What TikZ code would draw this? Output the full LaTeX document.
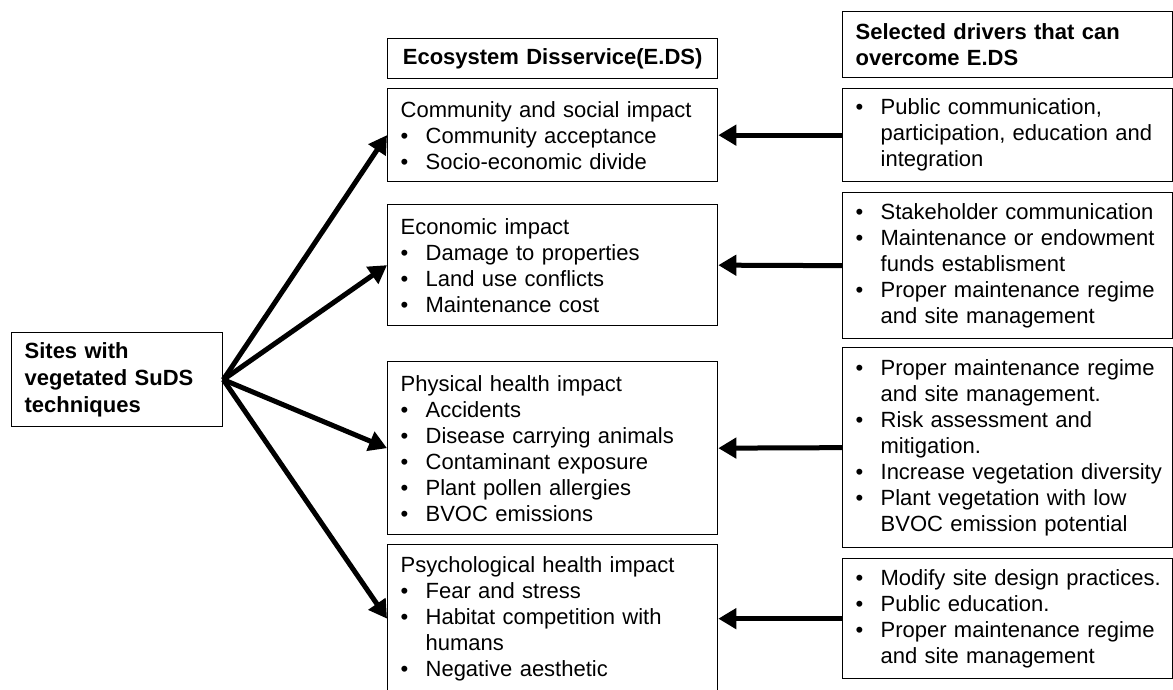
\documentclass[tikz,border=0pt]{standalone}
\usepackage{fontspec}
\setmainfont{Liberation Sans}
\usetikzlibrary{arrows.meta}
% bulleted line with hanging indent, and an indented continuation line;
% each line is kept in one piece
\newcommand{\bl}[1]{\makebox[25pt][l]{•}\mbox{#1}}
\newcommand{\ind}[1]{\hspace*{25pt}\mbox{#1}}
\begin{document}
\begin{tikzpicture}[x=1pt,y=-1pt,
  box/.style={draw, line width=1.3pt, anchor=north west, inner xsep=13pt,
    inner ysep=0pt, align=left, text width=304pt, minimum height=#1,
    font=\fontsize{22}{26}\selectfont},
  conn/.style={line width=5pt, -{Triangle[length=18pt,width=20pt]}}]
\useasboundingbox (0,0) rectangle (1173,689);
\clip (0,0) rectangle (1173,689);

% source
\node[box=94pt, text width=185pt, font=\fontsize{22}{27}\selectfont\bfseries]
  (src) at (11,332) {Sites with\\vegetated SuDS\\techniques};

% disservice column
\node[box=40pt, align=center, font=\fontsize{22}{26}\selectfont\bfseries]
  (hL) at (387,38) {Ecosystem Disservice(E.DS)};
\node[box=93pt] (L1) at (387,88)
  {Community and social impact\\\bl{Community acceptance}\\\bl{Socio-economic divide}};
\node[box=121pt] (L2) at (387,204)
  {Economic impact\\\bl{Damage to properties}\\\bl{Land use conflicts}\\\bl{Maintenance cost}};
\node[box=173pt] (L3) at (387,361)
  {Physical health impact\\\bl{Accidents}\\\bl{Disease carrying animals}\\\bl{Contaminant exposure}\\\bl{Plant pollen allergies}\\\bl{BVOC emissions}};
\node[box=148pt] (L4) at (387,544)
  {Psychological health impact\\\bl{Fear and stress}\\\bl{Habitat competition with}\\\ind{humans}\\\bl{Negative aesthetic}};

% drivers column
\node[box=66pt, font=\fontsize{22}{26}\selectfont\bfseries]
  (hR) at (842,11) {Selected drivers that can\\overcome E.DS};
\node[box=93pt] (R1) at (842,88)
  {\bl{Public communication,}\\\ind{participation, education and}\\\ind{integration}};
\node[box=146pt] (R2) at (842,192)
  {\bl{Stakeholder communication}\\\bl{Maintenance or endowment}\\\ind{funds establisment}\\\bl{Proper maintenance regime}\\\ind{and site management}};
\node[box=200pt] (R3) at (842,347)
  {\bl{Proper maintenance regime}\\\ind{and site management.}\\\bl{Risk assessment and}\\\ind{mitigation.}\\\bl{Increase vegetation diversity}\\\bl{Plant vegetation with low}\\\ind{BVOC emission potential}};
\node[box=120pt] (R4) at (842,558)
  {\bl{Modify site design practices.}\\\bl{Public education.}\\\bl{Proper maintenance regime}\\\ind{and site management}};

% connectors
\foreach \t in {L1,L2,L3,L4} \draw[conn] (src.east) -- (\t.west);
\draw[conn] (R1.west) -- (L1.east);
\draw[conn] (R2.west) -- (L2.east);
\draw[conn] (R3.west) -- (L3.east);
\draw[conn] (R4.west) -- (L4.east);
\end{tikzpicture}
\end{document}
